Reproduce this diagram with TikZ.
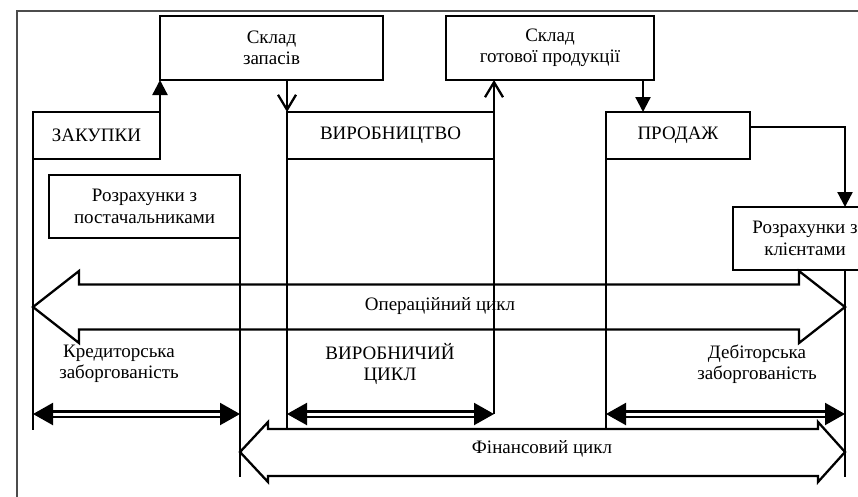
\documentclass[tikz,border=0pt]{standalone}
\usepackage{fontspec}
\setmainfont{Liberation Serif}
\usetikzlibrary{arrows.meta}
\begin{document}
\begin{tikzpicture}[x=1pt,y=-1pt,
  box/.style={draw,line width=2.3pt,inner sep=0pt,outer sep=0pt,align=center,
    font=\fontsize{19}{21.5}\selectfont},
  lbl/.style={inner sep=0pt,align=center,font=\fontsize{19}{21.5}\selectfont},
  rule/.style={line width=1.6pt},
  flow/.style={line width=2.3pt},
  solidtip/.style={-{Triangle[length=15pt,width=15pt]}},
  opentip/.style={-{Straight Barb[length=15pt,width=18pt]}},
  span/.style={line width=2.2pt,double,double distance=3pt,
    {Triangle[length=20pt,width=22pt]}-{Triangle[length=20pt,width=22pt]}},
  cyclearrow/.style={draw,line width=2.3pt,line join=miter},
]
\path[use as bounding box,clip] (0,0) rectangle (858,496);

% outer frame
\draw[gray!60!black,line width=1.3pt] (17,520) -- (17,11) -- (880,11);

% boxes
\node[box,minimum width=223pt,minimum height=64pt] (zap) at (271.5,48) {Склад\\запасів};
\node[box,minimum width=208pt,minimum height=64pt] (gp) at (550,48) {Склад\\готової продукції};
\node[box,minimum width=127pt,minimum height=47pt] (zak) at (96.5,135.5) {ЗАКУПКИ};
\node[box,minimum width=207pt,minimum height=47pt] (vyr) at (390.5,135.5) {ВИРОБНИЦТВО};
\node[box,minimum width=144pt,minimum height=47pt] (prod) at (678,135.5) {ПРОДАЖ};
\node[box,minimum width=191pt,minimum height=63pt] (rp) at (144.5,206.5) {Розрахунки з\\постачальниками};
\node[box,minimum width=144pt,minimum height=63pt] (rk) at (805,238.5) {Розрахунки з\\клієнтами};

% connection points
\coordinate (gpout) at (643,80);
\coordinate (prodout) at (750,127);
\coordinate (rkin) at (845,207);
\coordinate (rkout) at (845,270);

% flows between boxes
\draw[flow,solidtip] (zak.north east) -- (zap.south west);
\draw[flow,opentip] (vyr.north west |- zap.south) -- (vyr.north west);
\draw[flow,opentip] (vyr.north east) -- (vyr.north east |- gp.south);
\draw[flow,solidtip] (gpout) -- (gpout |- prod.north);
\draw[flow,solidtip] (prodout) -| (rkin);

% vertical time marks
\coordinate (m1) at (33,430);
\coordinate (m2) at (287,429);
\coordinate (m3) at (494,414);
\coordinate (m4) at (606,429);
\coordinate (m5) at (240,477);
\coordinate (m6) at (845,477);
\draw[rule] (zak.south west) -- (m1);
\draw[rule] (vyr.south west) -- (m2);
\draw[rule] (vyr.south east) -- (m3);
\draw[rule] (prod.south west) -- (m4);
\draw[rule] (rp.south east) -- (m5);
\draw[rule] (rkout) -- (m6);

% operating cycle
\path[cyclearrow] (33,307) -- (79,271) -- (79,284.5) -- (799,284.5) -- (799,271)
  -- (845,307) -- (799,343) -- (799,329.5) -- (79,329.5) -- (79,343) -- cycle;
\node[lbl] (op) at (440,306) {Операційний цикл};

% financial cycle
\path[cyclearrow] (240,452) -- (268,422) -- (268,429) -- (818,429) -- (818,422)
  -- (845,452) -- (818,482) -- (818,476) -- (268,476) -- (268,482) -- cycle;
\node[lbl] (fin) at (542,449) {Фінансовий цикл};

% period spans
\draw[span] (33,414) -- (240,414);
\draw[span] (287,414) -- (m3);
\draw[span] (606,414) -- (845,414);

\node[lbl] (kred) at (119,364) {Кредиторська\\заборгованість};
\node[lbl] (vc) at (390,364) {ВИРОБНИЧИЙ\\ЦИКЛ};
\node[lbl] (deb) at (757,364) {Дебіторська\\заборгованість};
\end{tikzpicture}
\end{document}
